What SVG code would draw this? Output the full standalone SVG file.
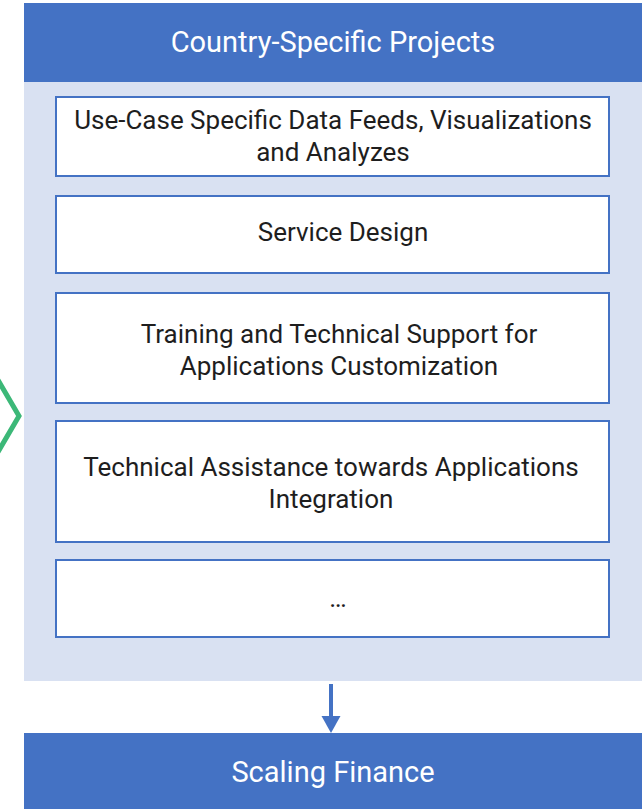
<svg xmlns="http://www.w3.org/2000/svg" width="642" height="809" viewBox="0 0 642 809">
<style>
.hdr{fill:#4472c4}
.panel{fill:#d9e1f2}
.box{fill:#fff;stroke:#4472c4;stroke-width:2}
.t{font-family:Roboto,"Liberation Sans",sans-serif;font-size:26px;fill:#1e1e1e;text-anchor:middle}
.w{font-family:Roboto,"Liberation Sans",sans-serif;font-size:29px;fill:#fff;text-anchor:middle}
</style>
<g id="chevron">
<polyline points="-2,380 19,416 -2,452" fill="none" stroke="#3cb878" stroke-width="5"/>
</g>
<g id="country-specific">
<rect class="panel" x="24" y="82" width="618" height="599"/>
<rect class="hdr" x="24" y="3" width="618" height="79"/>
<text class="w" x="333" y="52">Country-Specific Projects</text>
</g>
<g id="box1">
<rect class="box" x="56" y="97" width="553" height="79"/>
<text class="t" x="333" y="129">Use-Case Specific Data Feeds, Visualizations</text>
<text class="t" x="333" y="161">and Analyzes</text>
</g>
<g id="box2">
<rect class="box" x="56" y="196" width="553" height="77"/>
<text class="t" x="343" y="241">Service Design</text>
</g>
<g id="box3">
<rect class="box" x="56" y="293" width="553" height="110"/>
<text class="t" x="339" y="343">Training and Technical Support for</text>
<text class="t" x="339" y="375">Applications Customization</text>
</g>
<g id="box4">
<rect class="box" x="56" y="421" width="553" height="121"/>
<text class="t" x="331" y="476">Technical Assistance towards Applications</text>
<text class="t" x="331" y="508">Integration</text>
</g>
<g id="box5">
<rect class="box" x="56" y="560" width="553" height="77"/>
<text class="t" x="338" y="607">…</text>
</g>
<g id="connectors">
<line x1="331" y1="684" x2="331" y2="716" stroke="#4472c4" stroke-width="4"/>
<path d="M321.5,716 L340.5,716 L331,733 Z" fill="#4472c4"/>
</g>
<g id="scaling-finance">
<rect class="hdr" x="24" y="733" width="618" height="76"/>
<text class="w" x="333" y="782">Scaling Finance</text>
</g>
</svg>
